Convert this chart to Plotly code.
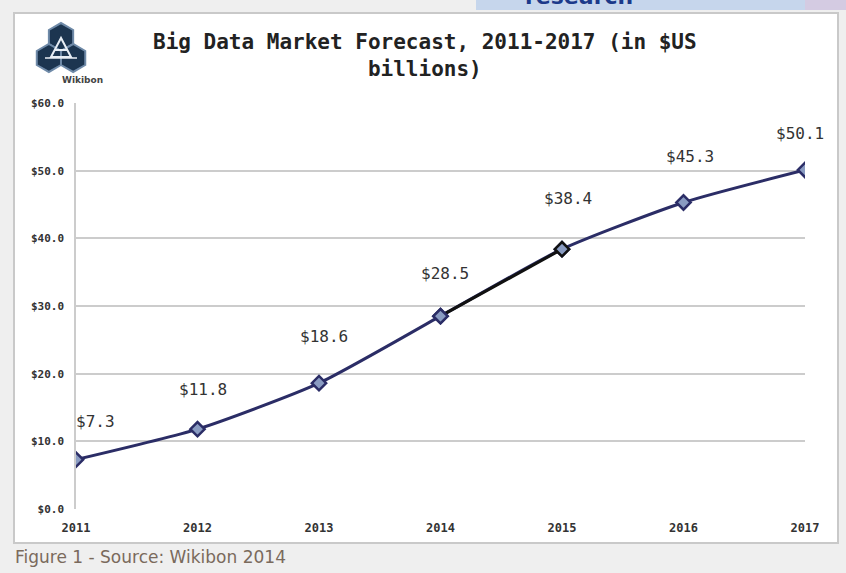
import math
import plotly.graph_objects as go

years = [2011, 2012, 2013, 2014, 2015, 2016, 2017]
values = [7.3, 11.8, 18.6, 28.5, 38.4, 45.3, 50.1]
value_labels = ["$7.3", "$11.8", "$18.6", "$28.5", "$38.4", "$45.3", "$50.1"]
y_ticks = [0, 10, 20, 30, 40, 50, 60]
y_tick_labels = ["$0.0", "$10.0", "$20.0", "$30.0", "$40.0", "$50.0", "$60.0"]
highlight = [2014, 2015]

W, H = 846, 573
L, R, T, B = 76, 805, 103, 509


def px(x):
    return (x - L) / (R - L)


def py(y):
    return (B - y) / (B - T)


NAVY = "#2b2d66"
FILL = "#8a9cc2"

fig = go.Figure()
fig.add_trace(go.Scatter(
    x=years, y=values, mode="lines+markers",
    line=dict(color=NAVY, width=3, shape="spline", smoothing=0.6),
    marker=dict(symbol="diamond", size=11, color=FILL, line=dict(color=NAVY, width=2.5)),
    hoverinfo="skip", showlegend=False,
))
hi_vals = [values[years.index(y)] for y in highlight]
fig.add_trace(go.Scatter(
    x=highlight, y=hi_vals, mode="lines",
    line=dict(color="#111111", width=3),
    hoverinfo="skip", showlegend=False,
))
fig.add_trace(go.Scatter(
    x=highlight, y=hi_vals, mode="markers",
    marker=dict(symbol="diamond", size=11, color=[FILL, FILL],
                line=dict(color=[NAVY, "#111111"], width=2.5)),
    hoverinfo="skip", showlegend=False,
))

# data labels
shifts = [(19, 38), (5, 40), (5, 47), (4, 43), (6, 51), (6, 46), (-5, 36)]
for (xv, yv, t), (dx, dy) in zip(zip(years, values, value_labels), shifts):
    fig.add_annotation(x=xv, y=yv, text=t, showarrow=False, xshift=dx, yshift=dy,
                       font=dict(family="DejaVu Sans Mono", size=16, color="#333333"))

shapes = []
# white panel
shapes.append(dict(type="rect", xref="paper", yref="paper", layer="below",
                   x0=px(14), x1=px(838), y0=py(543), y1=py(13),
                   fillcolor="white", line=dict(color="#c9c9c9", width=2)))
# top-right strip
shapes.append(dict(type="rect", xref="paper", yref="paper", layer="below",
                   x0=px(476), x1=px(846), y0=py(10), y1=py(-2),
                   fillcolor="#c6d6ec", line=dict(width=0)))
shapes.append(dict(type="rect", xref="paper", yref="paper", layer="below",
                   x0=px(805), x1=px(846), y0=py(10), y1=py(-2),
                   fillcolor="#d4cbe2", line=dict(width=0)))


def hexpath(cx, cy, r):
    pts = []
    for k in range(6):
        a = math.radians(60 * k + 30)
        pts.append((px(cx + r * math.cos(a)), py(cy + r * math.sin(a))))
    return "M " + " L ".join(f"{a:.4f},{b:.4f}" for a, b in pts) + " Z"


hr = 14
dxh = math.sqrt(3) * hr / 2
centers = [(61, 37), (61 - dxh, 37 + 1.5 * hr), (61 + dxh, 37 + 1.5 * hr)]
for cx, cy in centers:
    shapes.append(dict(type="path", xref="paper", yref="paper", path=hexpath(cx, cy, hr),
                       fillcolor="#1c3550", line=dict(color="#6f8aa8", width=2)))
for cx, cy in centers:
    shapes.append(dict(type="path", xref="paper", yref="paper", path=hexpath(cx, cy, hr - 2),
                       fillcolor="#1c3550", line=dict(width=0)))
# inner white bee mark
shapes.append(dict(type="path", xref="paper", yref="paper",
                   path=f"M {px(61)},{py(38)} L {px(51)},{py(57)} L {px(71)},{py(57)} Z",
                   fillcolor="rgba(0,0,0,0)", line=dict(color="#e8eef5", width=2)))
shapes.append(dict(type="line", xref="paper", yref="paper",
                   x0=px(54), x1=px(68), y0=py(50), y1=py(50),
                   line=dict(color="#e8eef5", width=2)))
shapes.append(dict(type="line", xref="paper", yref="paper",
                   x0=px(45), x1=px(77), y0=py(58), y1=py(58),
                   line=dict(color="#e8eef5", width=1.5)))

fig.update_layout(shapes=shapes)

fig.add_annotation(xref="paper", yref="paper", x=px(60), y=py(80), yanchor="middle",
                   text="<b>Wikibon</b>", showarrow=False,
                   font=dict(family="DejaVu Sans", size=9, color="#444444"))
fig.add_annotation(xref="paper", yref="paper", x=px(425), y=py(56), yanchor="middle",
                   text="<b>Big Data Market Forecast, 2011-2017 (in $US<br>billions)</b>",
                   showarrow=False, align="center",
                   font=dict(family="DejaVu Sans Mono", size=21, color="#222222"))
fig.add_annotation(xref="paper", yref="paper", x=px(13), y=py(557), xanchor="left",
                   yanchor="middle", text="Figure 1 - Source: Wikibon 2014", showarrow=False,
                   font=dict(family="DejaVu Sans", size=17, color="#7a6a5c"))
fig.add_annotation(xref="paper", yref="paper", x=px(635), y=py(11), yanchor="bottom",
                   text="<b>research</b>", showarrow=False,
                   font=dict(family="DejaVu Sans", size=22, color="#1c3a8a"))

fig.update_xaxes(range=[2011, 2017], tickvals=years, ticktext=[str(y) for y in years],
                 showgrid=False, zeroline=False, showline=False, ticks="", ticklabelstandoff=10,
                 tickfont=dict(family="DejaVu Sans Mono", size=12, color="#333333", weight="bold"))
fig.update_yaxes(range=[0, 60], tickvals=y_ticks, ticktext=y_tick_labels,
                 showgrid=True, gridcolor="#cccccc", gridwidth=1.5, zeroline=False,
                 showline=True, linecolor="#cccccc", linewidth=1.5, ticks="", ticklabelstandoff=8,
                 tickfont=dict(family="DejaVu Sans Mono", size=11, color="#333333", weight="bold"))

fig.update_layout(width=W, height=H, margin=dict(l=L, r=W - R, t=T, b=H - B),
                  paper_bgcolor="#efefef", plot_bgcolor="white")
fig.write_html("out.html", config={"displayModeBar": False},
               post_script="document.body.style.margin='0';document.body.style.overflow='hidden';")
